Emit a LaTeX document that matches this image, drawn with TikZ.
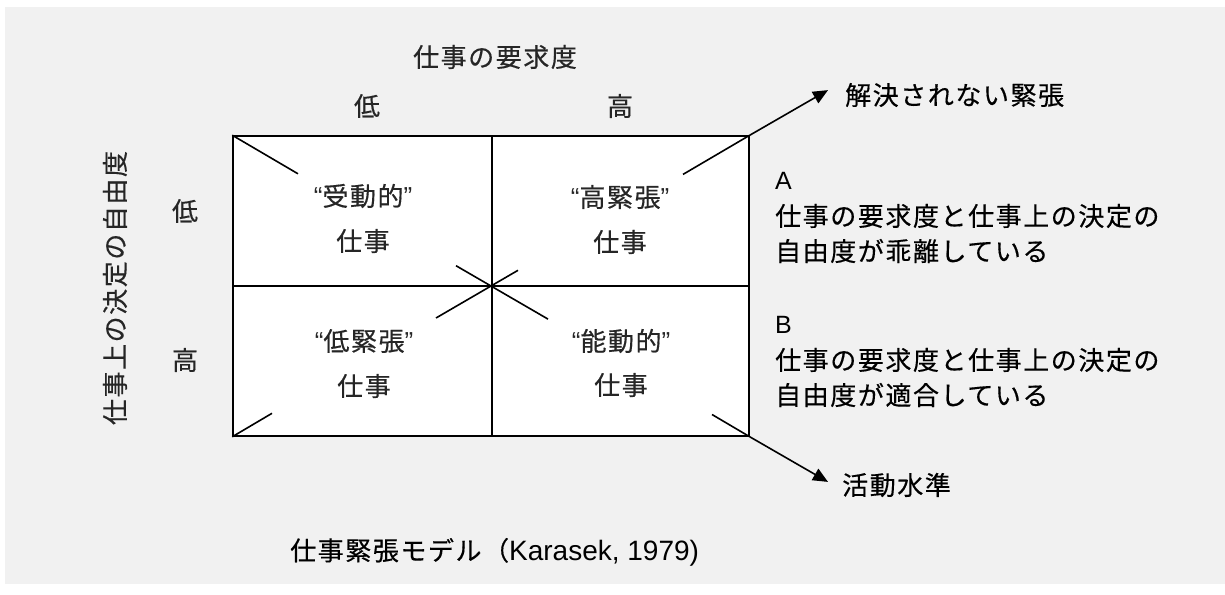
\documentclass[tikz,border=0pt]{standalone}
\usepackage{fontspec}
\usetikzlibrary{arrows.meta,calc}
\newfontfamily\jp[LetterSpace=6,FakeBold=0.4]{Noto Sans CJK JP}
\newfontfamily\lat{Liberation Sans}
\definecolor{bgc}{HTML}{F1F1F1}
\definecolor{txt}{HTML}{262626}
\tikzset{
  cell/.style={draw=black,line width=1.6pt,fill=white,inner sep=0pt,minimum height=150pt},
  lbl/.style={inner sep=0pt,text=txt,font=\jp\fontsize{26}{30}\selectfont},
  rlbl/.style={lbl,anchor=west,text=black},
  latin/.style={font=\lat\fontsize{25}{29}\selectfont},
  diag/.style={draw=black,line width=1.6pt},
  arr/.style={diag,-{Triangle[length=15pt,width=13pt]}}
}
\begin{document}
\begin{tikzpicture}[x=1pt,y=-1pt]
\useasboundingbox (0,0) rectangle (1225,594);
\fill[white] (0,0) rectangle (1225,594);
\fill[bgc] (5,7) rectangle (1225,584);
% cells
\node[cell,minimum width=259pt] (tl) at (362.5,211) {};
\node[cell,minimum width=257pt] (tr) at (620.5,211) {};
\node[cell,minimum width=259pt] (bl) at (362.5,361) {};
\node[cell,minimum width=257pt] (br) at (620.5,361) {};
% diagonal segment end points
\coordinate (a1) at (298,173.8);
\coordinate (c1) at (456,265.7);
\coordinate (c2) at (548,319.1);
\coordinate (d1) at (712,414.5);
\coordinate (e1) at (272,413.3);
\coordinate (f1) at (436,318.0);
\coordinate (f2) at (518,270.3);
\coordinate (g1) at (683,174.4);
\coordinate (up) at (828,90.1);
\coordinate (dn) at (828,481.9);
\draw[diag] (tl.north west) -- (a1);
\draw[diag] (c1) -- (c2);
\draw[diag] (f1) -- (f2);
\draw[diag] (bl.south west) -- (e1);
\draw[diag] (g1) -- (tr.north east);
\draw[arr] (tr.north east) -- (up);
\draw[diag] (d1) -- (br.south east);
\draw[arr] (br.south east) -- (dn);
% cell texts
\node[lbl] (tl1) at (363,196) {{\lat “}受動的{\lat ”}};
\node[lbl] (tl2) at (363,241) {仕事};
\node[lbl] (tr1) at (620,197) {{\lat “}高緊張{\lat ”}};
\node[lbl] (tr2) at (620,242) {仕事};
\node[lbl] (bl1) at (364,341) {{\lat “}低緊張{\lat ”}};
\node[lbl] (bl2) at (364,386) {仕事};
\node[lbl] (br1) at (621,341) {{\lat “}能動的{\lat ”}};
\node[lbl] (br2) at (621,385) {仕事};
% axis labels
\node[lbl] (demand) at (495,57) {仕事の要求度};
\node[lbl] (dlow) at (367,106) {低};
\node[lbl] (dhigh) at (620,106) {高};
\node[lbl,rotate=90] (lat) at (115,288) {仕事上の決定の自由度};
\node[lbl] (llow) at (185,211) {低};
\node[lbl] (lhigh) at (185,360) {高};
% right side
\node[rlbl] (unres) at (845,95) {解決されない緊張};
\node[rlbl] (act) at (842,485) {活動水準};
\node[rlbl,latin] (A) at (775,181) {A};
\node[rlbl] (A1) at (775,216) {仕事の要求度と仕事上の決定の};
\node[rlbl] (A2) at (775,251) {自由度が乖離している};
\node[rlbl,latin] (B) at (775,325) {B};
\node[rlbl] (B1) at (775,360) {仕事の要求度と仕事上の決定の};
\node[rlbl] (B2) at (775,395) {自由度が適合している};
% caption
\node[rlbl] (cap) at (290,552) {仕事緊張モデル（{\lat\fontsize{28}{32}\selectfont Karasek, 1979)}};
\end{tikzpicture}
\end{document}
